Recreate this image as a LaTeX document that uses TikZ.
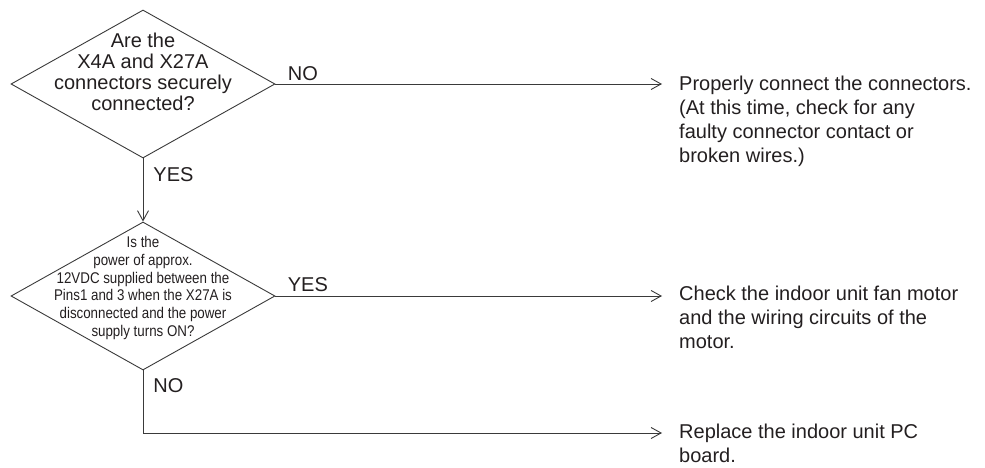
\documentclass[tikz,border=0pt]{standalone}
\usepackage{fontspec}
\setmainfont{Liberation Sans}
\newfontfamily\narrowsans[FakeStretch=0.86]{Liberation Sans}
\usetikzlibrary{arrows.meta,shapes.geometric}
\definecolor{InkBlack}{HTML}{231F20}
\definecolor{LineGray}{HTML}{3A3A3A}

\begin{document}
\begin{tikzpicture}[
  x=1pt, y=-1pt,
  text=InkBlack,
  font=\fontsize{20}{21}\selectfont,
  % decision diamond (outline only, text placed on top)
  dec/.style={draw=LineGray, line width=0.9pt, shape=diamond,
              minimum width=264pt, minimum height=148pt, inner sep=0pt},
  dtxt/.style={align=center, inner sep=0pt,
               font=\fontsize{20}{21}\selectfont},
  dtxtS/.style={align=center, inner sep=0pt,
                font=\narrowsans\fontsize{15.5}{17.8}\selectfont},
  % result text at the right
  res/.style={align=left, anchor=north west, inner sep=0pt,
              font=\fontsize{20}{24}\selectfont},
  % arrows
  arr/.style={-{Straight Barb[length=10pt,width=11pt]}, draw=LineGray, line width=0.9pt},
  lbl/.style={inner sep=0pt, font=\fontsize{20}{21}\selectfont},
]
\useasboundingbox (0,0) rectangle (985,468);

%% ── Decisions ───────────────────────────────────────────────────────────
\node[dec]  (Q1)  at (143,84)  {};
\node[dtxt] (Q1t) at (143,72)  {Are the\\X4A and X27A\\connectors securely\\connected?};
\node[dec]  (Q2)  at (143,296) {};
\node[dtxtS] (Q2t) at (143,288) {Is the\\power of approx.\\12VDC supplied between the\\Pins1 and 3 when the X27A is\\disconnected and the power\\supply turns ON?};

%% ── Results ─────────────────────────────────────────────────────────────
\node[res] (R1) at (679,76)  {Properly connect the connectors.\\(At this time, check for any\\faulty connector contact or\\broken wires.)};
\node[res] (R2) at (679,286) {Check the indoor unit fan motor\\and the wiring circuits of the\\motor.};
\node[res] (R3) at (679,424) {Replace the indoor unit PC\\board.};

\coordinate (T1) at (662,84);
\coordinate (T2) at (662,296);
\coordinate (T3) at (662,433);

%% ── Arrows ──────────────────────────────────────────────────────────────
\draw[arr] (Q1.east) -- node[lbl,pos=0,anchor=south west,xshift=12,yshift=3]{NO} (T1);
\draw[arr] (Q1.south) -- node[lbl,pos=0,anchor=north west,xshift=10,yshift=-9]{YES} (Q2.north);
\draw[arr] (Q2.east) -- node[lbl,pos=0,anchor=south west,xshift=12,yshift=4]{YES} (T2);
\draw[arr] (Q2.south) |- node[lbl,pos=0,anchor=north west,xshift=10,yshift=-8]{NO} (T3);

\end{tikzpicture}
\end{document}
